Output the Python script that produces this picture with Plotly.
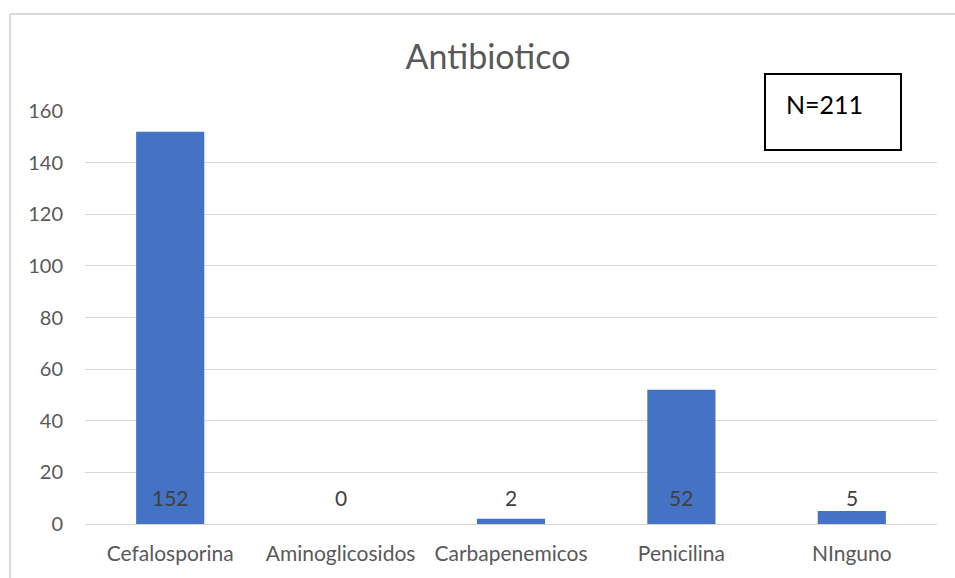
import plotly.graph_objects as go

categories = ["Cefalosporina", "Aminoglicosidos", "Carbapenemicos", "Penicilina", "NInguno"]
counts = [152, 0, 2, 52, 5]
y_ticks = [0, 20, 40, 60, 80, 100, 120, 140, 160]
title_text = "Antibiotico"
total_label = "N=211"

FONT = "Lato, Open Sans, sans-serif"
GREY = "#595959"

fig = go.Figure()
fig.add_trace(go.Bar(
    x=categories, y=counts,
    marker=dict(color="#4472C4", line=dict(width=0)),
    width=0.4, hoverinfo="x+y",
))

# value labels sitting near the base of each bar
for c, v in zip(categories, counts):
    fig.add_annotation(
        x=c, y=0, text=str(v), showarrow=False,
        yanchor="middle", yshift=27,
        font=dict(family=FONT, size=21, color="#404040"),
    )

# pixel helpers for the plot area (left 85, right 937, top 111, bottom 524)
def px_x(px):
    return (px - 85) / 852

def px_y(py):
    return (524 - py) / 413

shapes = [
    # chart-area frame (left and top edges)
    dict(type="line", xref="paper", yref="paper",
         x0=px_x(10), x1=px_x(10), y0=px_y(578), y1=px_y(14),
         line=dict(color="#d9d9d9", width=2)),
    dict(type="line", xref="paper", yref="paper",
         x0=px_x(10), x1=px_x(960), y0=px_y(14), y1=px_y(14),
         line=dict(color="#d9d9d9", width=2)),
    # sample-size box
    dict(type="rect", xref="paper", yref="paper", layer="above",
         x0=px_x(765), x1=px_x(901), y0=px_y(150), y1=px_y(74),
         fillcolor="white", line=dict(color="black", width=2)),
]

fig.add_annotation(
    xref="paper", yref="paper", x=px_x(784), y=px_y(104),
    xanchor="left", yanchor="middle", text=total_label, showarrow=False,
    font=dict(family=FONT, size=25, color="black"),
)

fig.update_layout(
    width=955, height=578,
    margin=dict(l=85, r=18, t=111, b=54),
    paper_bgcolor="white", plot_bgcolor="white",
    showlegend=False,
    shapes=shapes,
    title=dict(text=title_text, x=0.511, xref="container", y=1 - 57 / 578,
               yref="container", xanchor="center", yanchor="middle",
               font=dict(family=FONT, size=34, color=GREY)),
    xaxis=dict(showgrid=False, showline=False, ticks="",
               ticklabelstandoff=15,
               tickfont=dict(family=FONT, size=21, color=GREY)),
    yaxis=dict(range=[0, 160], tickvals=y_ticks, showgrid=True,
               gridcolor="#d9d9d9", gridwidth=1, zeroline=True,
               zerolinecolor="#d9d9d9", zerolinewidth=1, showline=False,
               ticks="", ticklabelstandoff=21,
               tickfont=dict(family=FONT, size=20, color=GREY)),
    font=dict(family=FONT),
)

fig.write_html("out.html")
